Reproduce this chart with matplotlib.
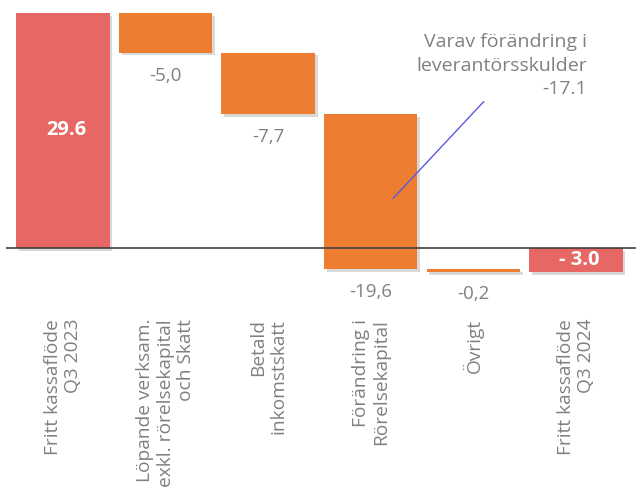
import matplotlib
matplotlib.use("Agg")
import matplotlib.pyplot as plt
import matplotlib.patheffects as pe
from matplotlib.transforms import ScaledTranslation

plt.rcParams['font.family'] = ['Open Sans', 'DejaVu Sans']

categories = ["Fritt kassaflöde\nQ3 2023",
              "Löpande verksam.\nexkl. rörelsekapital\noch Skatt",
              "Betald\ninkomstskatt",
              "Förändring i\nRörelsekapital",
              "Övrigt",
              "Fritt kassaflöde\nQ3 2024"]
values = [29.6, -5.0, -7.7, -19.6, -0.2, -3.0]
is_total = [True, False, False, False, False, True]
value_labels = ["29.6", "-5,0", "-7,7", "-19,6", "-0,2", "- 3.0"]
note_text = "Varav förändring i\nleverantörsskulder\n-17.1"

red = "#E66763"
orange = "#ED7D31"
gray = "#808080"

fig = plt.figure(figsize=(6.36, 4.88), dpi=100)
ax = fig.add_axes([6/636, (488-305)/488, 630/636, 292/488])

shadow = [pe.SimplePatchShadow(offset=(2, -2), alpha=0.22, shadow_rgbFace="#555555"), pe.Normal()]

running = 0.0
bw = 0.91
for i, (v, tot) in enumerate(zip(values, is_total)):
    if tot:
        bottom = 0.0
        running = v
        color = red
    else:
        bottom = running
        running = running + v
        color = orange
    h = v
    if abs(h) < 0.4:
        h = -0.3 if h < 0 else 0.3
    bars = ax.bar(i, h, bottom=bottom, width=bw, color=color, zorder=2)
    for b in bars:
        b.set_path_effects(shadow)
    if tot:
        ax.text(i + 0.03, bottom + v / 2, value_labels[i], ha='center', va='center',
                color='white', fontsize=14.5, fontweight='bold', zorder=4)
    else:
        low = min(bottom, bottom + v)
        ax.text(i, low - 2.9, value_labels[i], ha='center', va='center',
                color=gray, fontsize=13.5, zorder=4)

ax.axhline(0, color="#404040", lw=1.2, zorder=3)

ax.set_xlim(-0.555, 5.585)
ax.set_ylim(-7.18, 29.6)
ax.set_xticks(range(len(categories)))
ax.set_xticklabels(categories, rotation=90, ha='center', va='top',
                   multialignment='right', color=gray, fontsize=13.8,
                   linespacing=1.15)
off = ScaledTranslation(7/100, 0, fig.dpi_scale_trans)
for lab in ax.get_xticklabels():
    lab.set_transform(lab.get_transform() + off)
ax.tick_params(axis='x', length=0, pad=10)
ax.set_yticks([])
for s in ax.spines.values():
    s.set_visible(False)

# annotation
fig.text(587/636, 1 - 33/488, note_text, ha='right', va='top', color=gray,
         fontsize=14, linespacing=1.4)
ax.annotate("", xy=(3.2, 6.0), xytext=(4.12, 18.7),
            arrowprops=dict(arrowstyle='-', color="#5A5AE0", lw=1.0), zorder=5)

fig.savefig("out.png", dpi=100)
